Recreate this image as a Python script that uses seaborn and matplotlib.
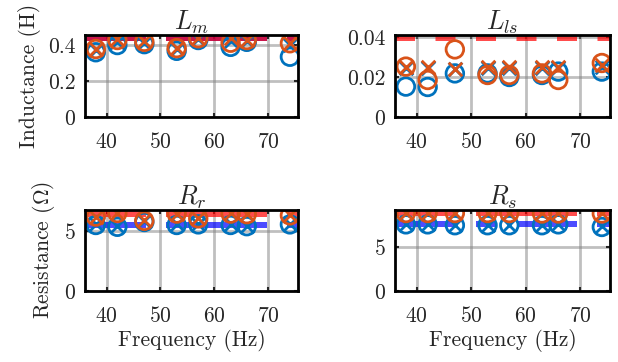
import numpy as np
import pandas as pd
import seaborn as sns
import matplotlib
matplotlib.use("Agg")
import matplotlib.pyplot as plt
from matplotlib.ticker import FuncFormatter

# test frequencies (Hz)
freqs = [38, 42, 47, 53, 57, 63, 66, 74]

# L_m estimates (H): blue / orange, circle / cross
lm_blue_o = [0.360, 0.400, 0.405, 0.368, 0.428, 0.390, 0.418, 0.335]
lm_blue_x = [0.370, 0.415, 0.410, 0.378, 0.432, 0.420, 0.425, 0.400]
lm_orng_o = [0.378, 0.428, 0.418, 0.383, 0.438, 0.413, 0.428, 0.410]
lm_orng_x = [0.378, 0.432, 0.420, 0.385, 0.440, 0.440, 0.430, 0.412]
lm_ref = 0.442

# L_ls estimates (H)
lls_blue_o = [0.0152, 0.0150, 0.0218, 0.0218, 0.0200, 0.0210, 0.0227, 0.0227]
lls_blue_x = [0.0245, 0.0245, 0.0240, 0.0245, 0.0245, 0.0245, 0.0245, 0.0250]
lls_orng_o = [0.0252, 0.0185, 0.0338, 0.0210, 0.0210, 0.0218, 0.0185, 0.0270]
lls_orng_x = [0.0250, 0.0250, 0.0238, 0.0250, 0.0250, 0.0250, 0.0250, 0.0260]
lls_ref = 0.0395

# R_r estimates (Ohm)
rr_blue_o = [5.50, 5.35, 5.75, 5.50, 5.55, 5.50, 5.40, 5.55]
rr_blue_x = [5.55, 5.40, 5.80, 5.55, 5.60, 5.55, 5.45, 5.60]
rr_orng_o = [6.20, 6.50, 5.85, 6.45, 6.05, 6.45, 6.40, 6.30]
rr_orng_x = [6.20, 6.50, 5.90, 6.45, 6.05, 6.50, 6.40, 6.35]
rr_ref_red = 6.40
rr_ref_blue = 5.50

# R_s estimates (Ohm)
rs_blue_o = [7.65, 7.65, 7.55, 7.55, 7.55, 7.55, 7.65, 7.35]
rs_blue_x = [7.70, 7.70, 7.60, 7.60, 7.60, 7.60, 7.70, 7.45]
rs_orng_o = [8.95, 8.95, 8.95, 8.95, 8.95, 8.90, 8.90, 8.90]
rs_orng_x = [8.95, 8.95, 8.95, 8.95, 8.95, 8.90, 8.90, 8.90]
rs_ref_red = 8.95
rs_ref_blue = 7.67

sns.set_style("ticks")
plt.rcParams["font.family"] = ["serif"]
plt.rcParams["font.serif"] = ["cmr10", "DejaVu Serif"]
plt.rcParams["mathtext.fontset"] = "cm"
plt.rcParams["axes.formatter.use_mathtext"] = True
plt.rcParams["lines.scale_dashes"] = False
plt.rcParams["font.size"] = 15.5

BLUE = "#0072BD"
ORANGE = "#D95319"
PX = 0.72  # points per pixel at 100 dpi

fig = plt.figure(figsize=(6.18, 3.62), dpi=100)
rects = [
    [85 / 618, 1 - 117 / 362, 213 / 618, 82 / 362],
    [395 / 618, 1 - 117 / 362, 215 / 618, 82 / 362],
    [85 / 618, 1 - 291 / 362, 213 / 618, 81 / 362],
    [395 / 618, 1 - 291 / 362, 215 / 618, 81 / 362],
]
axes = [fig.add_axes(r) for r in rects]

long_dash = [61 * PX, 20 * PX, 101 * PX, 20 * PX, 300 * PX, 1]
short_dash = [20 * PX, 20.5 * PX]
blue_dash = [61 * PX, 20 * PX, 20 * PX, 21 * PX, 60 * PX, 20 * PX, 300 * PX, 1]

panels = [
    ("$L_m$", lm_blue_o, lm_blue_x, lm_orng_o, lm_orng_x,
     [(lm_ref, "blue", long_dash), (lm_ref, "red", long_dash)], (0, 0.456), [0, 0.2, 0.4]),
    ("$L_{ls}$", lls_blue_o, lls_blue_x, lls_orng_o, lls_orng_x,
     [(lls_ref, "red", short_dash)], (0, 0.041), [0, 0.02, 0.04]),
    ("$R_r$", rr_blue_o, rr_blue_x, rr_orng_o, rr_orng_x,
     [(rr_ref_blue, "blue", long_dash), (rr_ref_red, "red", long_dash)], (0, 6.75), [0, 5]),
    ("$R_s$", rs_blue_o, rs_blue_x, rs_orng_o, rs_orng_x,
     [(rs_ref_blue, "blue", blue_dash), (rs_ref_red, "red", long_dash)], (0, 9.3), [0, 5]),
]

for ax, (title, bo, bx, oo, ox, refs, ylim, yticks) in zip(axes, panels):
    for val, col, dashes in refs:
        ln = ax.axhline(val, color=col, alpha=0.7, lw=6 * PX, zorder=2)
        ln.set_dashes(dashes)
    df = pd.DataFrame({"f": freqs, "bo": bo, "bx": bx, "oo": oo, "ox": ox})
    sns.scatterplot(data=df, x="f", y="bo", marker="o", s=160, facecolor="none",
                    edgecolor=BLUE, linewidth=2, ax=ax, zorder=3)
    sns.scatterplot(data=df, x="f", y="bx", marker="x", s=95, color=BLUE,
                    linewidth=2, ax=ax, zorder=3)
    sns.scatterplot(data=df, x="f", y="oo", marker="o", s=160, facecolor="none",
                    edgecolor=ORANGE, linewidth=2, ax=ax, zorder=4)
    sns.scatterplot(data=df, x="f", y="ox", marker="x", s=95, color=ORANGE,
                    linewidth=2, ax=ax, zorder=4)
    ax.set_xlim(36, 75.5)
    ax.set_ylim(*ylim)
    ax.set_xticks([40, 50, 60, 70])
    ax.set_yticks(yticks)
    ax.yaxis.set_major_formatter(FuncFormatter(lambda v, p: "%g" % v))
    ax.grid(True, color="gray", alpha=0.5, lw=2)
    ax.set_axisbelow(True)
    ax.tick_params(direction="in", length=3, width=1.5, top=True, right=True)
    ax.tick_params(axis="x", pad=11)
    ax.tick_params(axis="y", pad=7)
    for sp in ax.spines.values():
        sp.set_visible(True)
        sp.set_linewidth(2)
        sp.set_color("black")
        sp.set_zorder(5)
    ax.set_title(title, pad=4)
    ax.set_xlabel("")
    ax.set_ylabel("")

axes[0].set_ylabel("Inductance (H)", labelpad=5)
axes[2].set_ylabel(r"Resistance ($\Omega$)", labelpad=5)
axes[2].set_xlabel("Frequency (Hz)", labelpad=2)
axes[3].set_xlabel("Frequency (Hz)", labelpad=2)

fig.savefig("out.png", dpi=100)
